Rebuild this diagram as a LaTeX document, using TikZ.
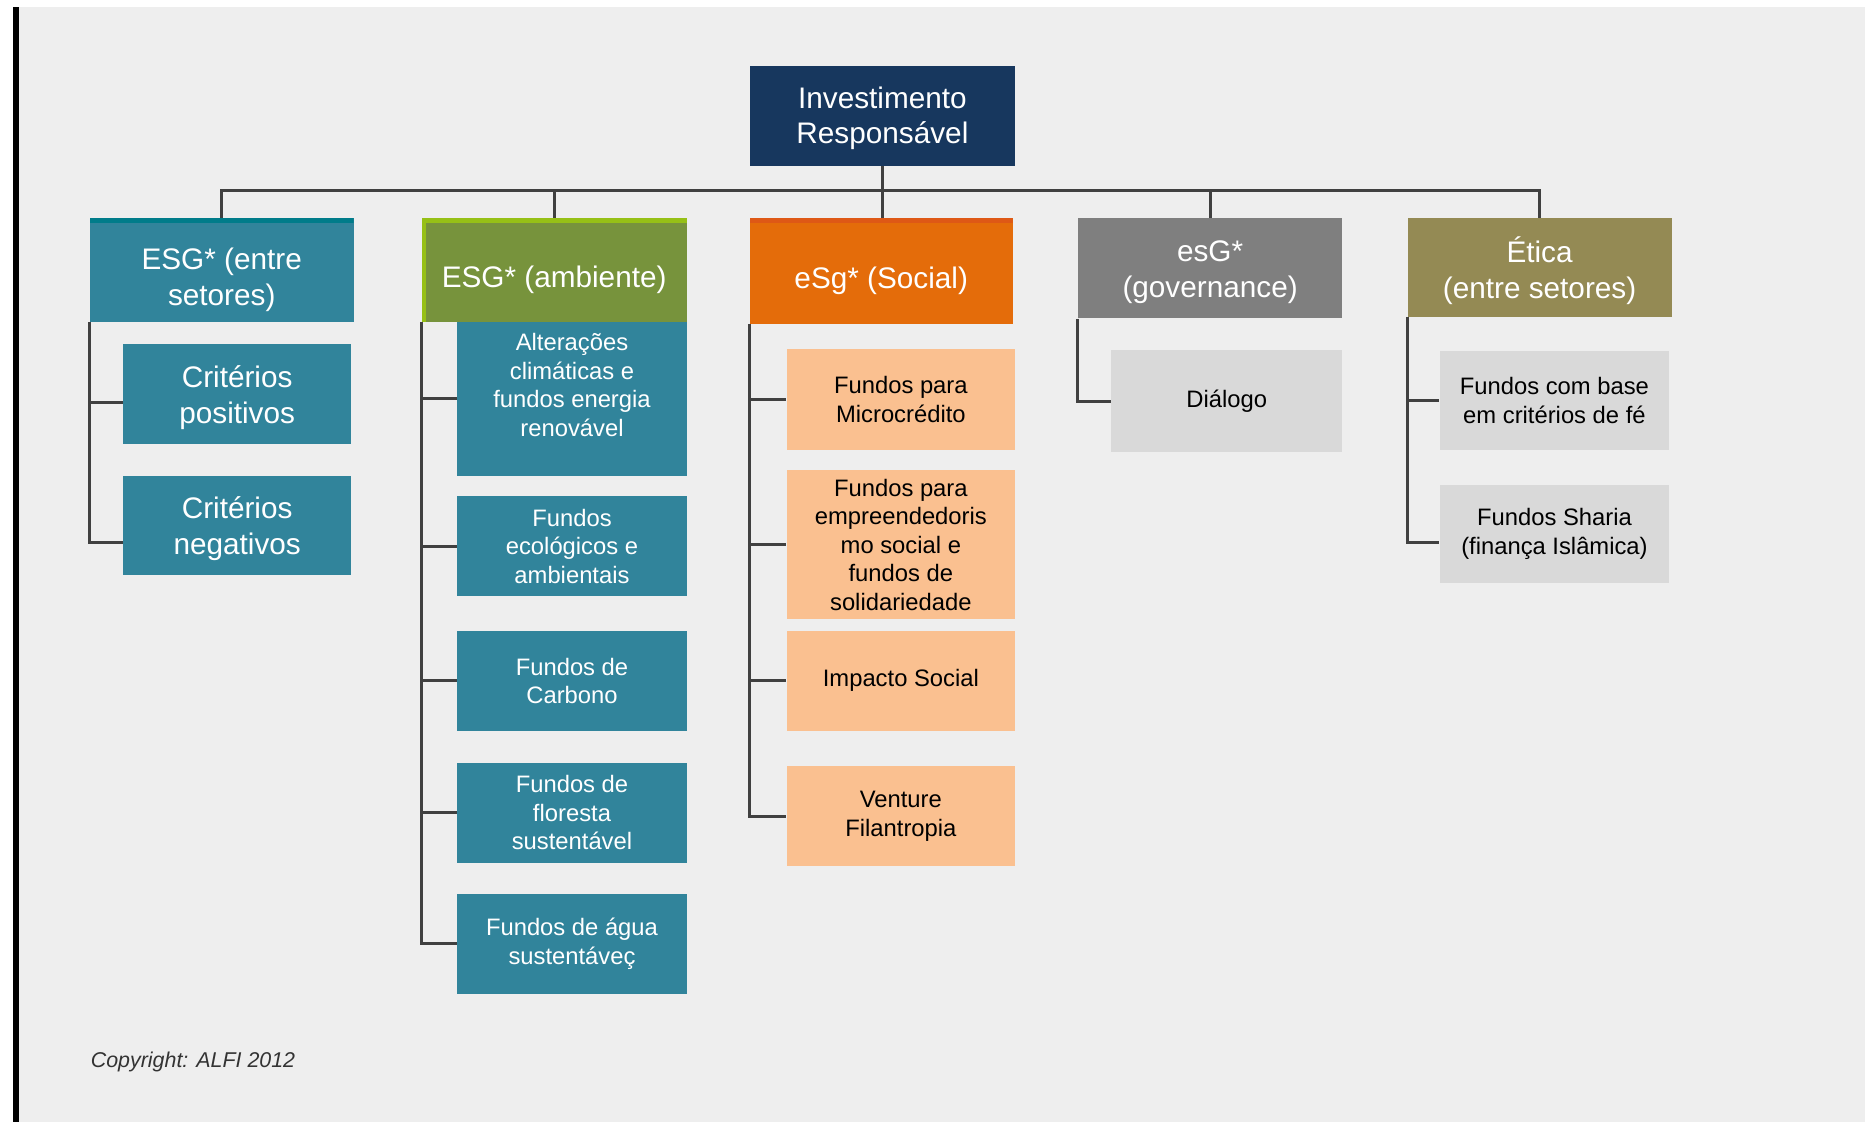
\documentclass[tikz,border=0pt]{standalone}
\usepackage{fontspec}
\setmainfont{Liberation Sans}
\definecolor{alfiBg}{RGB}{238,238,238}
\definecolor{alfiNavy}{RGB}{23,55,94}
\definecolor{alfiTeal}{RGB}{49,132,155}
\definecolor{alfiTealDark}{RGB}{0,124,138}
\definecolor{alfiGreen}{RGB}{119,147,60}
\definecolor{alfiGreenLight}{RGB}{150,192,22}
\definecolor{alfiOrange}{RGB}{228,108,10}
\definecolor{alfiOrangeDark}{RGB}{222,88,22}
\definecolor{alfiGrey}{RGB}{127,127,127}
\definecolor{alfiKhaki}{RGB}{148,138,84}
\definecolor{alfiPeach}{RGB}{250,192,144}
\definecolor{alfiLight}{RGB}{217,217,217}
\definecolor{alfiLine}{RGB}{64,64,64}
\definecolor{alfiCopy}{RGB}{51,51,51}
\newcommand{\topstrut}[1]{\rule{0pt}{#1}}

\begin{document}
\begin{tikzpicture}[x=0.5pt,y=-0.5pt]
\tikzstyle{every node}=[align=center, inner sep=0pt, anchor=north west]
\tikzstyle{bigbox}=[font=\fontsize{12.5}{15}\selectfont, text=white]
\tikzstyle{smallbox}=[font=\fontsize{10}{12}\selectfont, minimum width=96.5pt, minimum height=42pt]
\tikzstyle{lowtext}=[execute at begin node={\rule{0pt}{17pt}}]
\tikzstyle{topband}=[path picture={\fill[#1] (path picture bounding box.north west) rectangle ([yshift=-2pt]path picture bounding box.north east);}]
\tikzstyle{conn}=[draw=alfiLine, line width=1.3pt]

  \fill[white] (0,0) rectangle (1568,943);
  \fill[alfiBg] (16,6) rectangle (1568,943);
  \fill[black] (11,6) rectangle (16,943);
  \useasboundingbox (0,0) rectangle (1568,943);

  \node[bigbox, fill=alfiNavy, minimum width=111.5pt, minimum height=42pt] (root) at (630,55) {\topstrut{11pt}Investimento\\Responsável};

  \node[bigbox, topband=alfiTealDark, fill=alfiTeal, minimum width=111pt, minimum height=43.5pt] (esgSetores) at (75,183) {\topstrut{17.5pt}ESG* (entre\\setores)};
  \node[bigbox, lowtext, fill=alfiGreen, minimum width=111.5pt, minimum height=43.5pt,
    path picture={\fill[alfiGreenLight] (path picture bounding box.north west) rectangle ([yshift=-2pt]path picture bounding box.north east);
      \fill[alfiGreenLight] (path picture bounding box.north west) rectangle ([xshift=2pt]path picture bounding box.south west);}] (esgAmbiente) at (354,183) {ESG* (ambiente)};
  \node[bigbox, lowtext, topband=alfiOrangeDark, fill=alfiOrange, minimum width=110.5pt, minimum height=44.5pt] (esgSocial) at (630,183) {eSg* (Social)};
  \node[bigbox, fill=alfiGrey, minimum width=111pt, minimum height=42pt] (esgGov) at (906,183) {\topstrut{12.2pt}esG*\\(governance)};
  \node[bigbox, fill=alfiKhaki, minimum width=111pt, minimum height=41.5pt] (etica) at (1183,183) {\topstrut{13.5pt}Ética\\(entre setores)};

  \node[bigbox, fill=alfiTeal, minimum width=96pt, minimum height=42pt] (critPos) at (103,289) {\topstrut{12pt}Critérios\\positivos};
  \node[bigbox, fill=alfiTeal, minimum width=96pt, minimum height=41.5pt] (critNeg) at (103,400) {\topstrut{12pt}Critérios\\negativos};

  \node[smallbox, fill=alfiTeal, text=white, minimum height=65pt] (clima) at (384,270) {Alterações\\climáticas e\\fundos energia\\renovável\rule[-12pt]{0pt}{0pt}};
  \node[smallbox, fill=alfiTeal, text=white] (ecologicos) at (384,417) {Fundos\\ecológicos e\\ambientais};
  \node[smallbox, fill=alfiTeal, text=white] (carbono) at (384,530) {Fundos de\\Carbono};
  \node[smallbox, fill=alfiTeal, text=white] (floresta) at (384,641) {Fundos de\\floresta\\sustentável};
  \node[smallbox, fill=alfiTeal, text=white] (agua) at (384,751) {Fundos de água\\sustentáveç};

  \node[smallbox, fill=alfiPeach, minimum width=96pt, minimum height=42.5pt] (microcredito) at (661,293) {Fundos para\\Microcrédito};
  \node[smallbox, fill=alfiPeach, minimum width=96pt, minimum height=62.5pt] (empreend) at (661,395) {Fundos para\\empreendedoris\\mo social e\\fundos de\\solidariedade};
  \node[smallbox, fill=alfiPeach, minimum width=96pt] (impacto) at (661,530) {Impacto Social};
  \node[smallbox, fill=alfiPeach, minimum width=96pt] (venture) at (661,644) {Venture\\Filantropia};

  \node[smallbox, fill=alfiLight, minimum width=97pt, minimum height=43pt] (dialogo) at (934,294) {Diálogo};

  \node[smallbox, fill=alfiLight, minimum height=41.5pt] (baseFe) at (1210,295) {Fundos com base\\em critérios de fé};
  \node[smallbox, fill=alfiLight, minimum height=41.5pt] (sharia) at (1210,407) {Fundos Sharia\\(finança Islâmica)};

  \node[font=\fontsize{9}{11}\selectfont\itshape, text=alfiCopy, anchor=west] (copyright) at (76,893) {Copyright: ALFI 2012};

  \coordinate (bus) at (740,160);
  \draw[conn] (root.south) -- (root.south |- esgSocial.north);
  \draw[conn] (esgSetores.north) |- (bus) -| (etica.north);
  \draw[conn] (esgAmbiente.north) -- (esgAmbiente.north |- bus);
  \draw[conn] (esgGov.north) -- (esgGov.north |- bus);

  \draw[conn] (esgSetores.south west) |- ([yshift=-3.5pt]critPos.west);
  \draw[conn] (esgSetores.south west) |- ([yshift=-7pt]critNeg.west);

  \draw[conn] (esgAmbiente.south west) |- (clima.west);
  \draw[conn] (esgAmbiente.south west) |- (ecologicos.west);
  \draw[conn] (esgAmbiente.south west) |- (carbono.west);
  \draw[conn] (esgAmbiente.south west) |- (floresta.west);
  \draw[conn] (esgAmbiente.south west) |- (agua.west);

  \draw[conn] (esgSocial.south west) |- (microcredito.west);
  \draw[conn] (esgSocial.south west) |- (empreend.west);
  \draw[conn] (esgSocial.south west) |- (impacto.west);
  \draw[conn] (esgSocial.south west) |- (venture.west);

  \draw[conn] (esgGov.south west) |- (dialogo.west);

  \draw[conn] (etica.south west) |- (baseFe.west);
  \draw[conn] (etica.south west) |- ([yshift=-3.5pt]sharia.west);

\end{tikzpicture}
\end{document}
